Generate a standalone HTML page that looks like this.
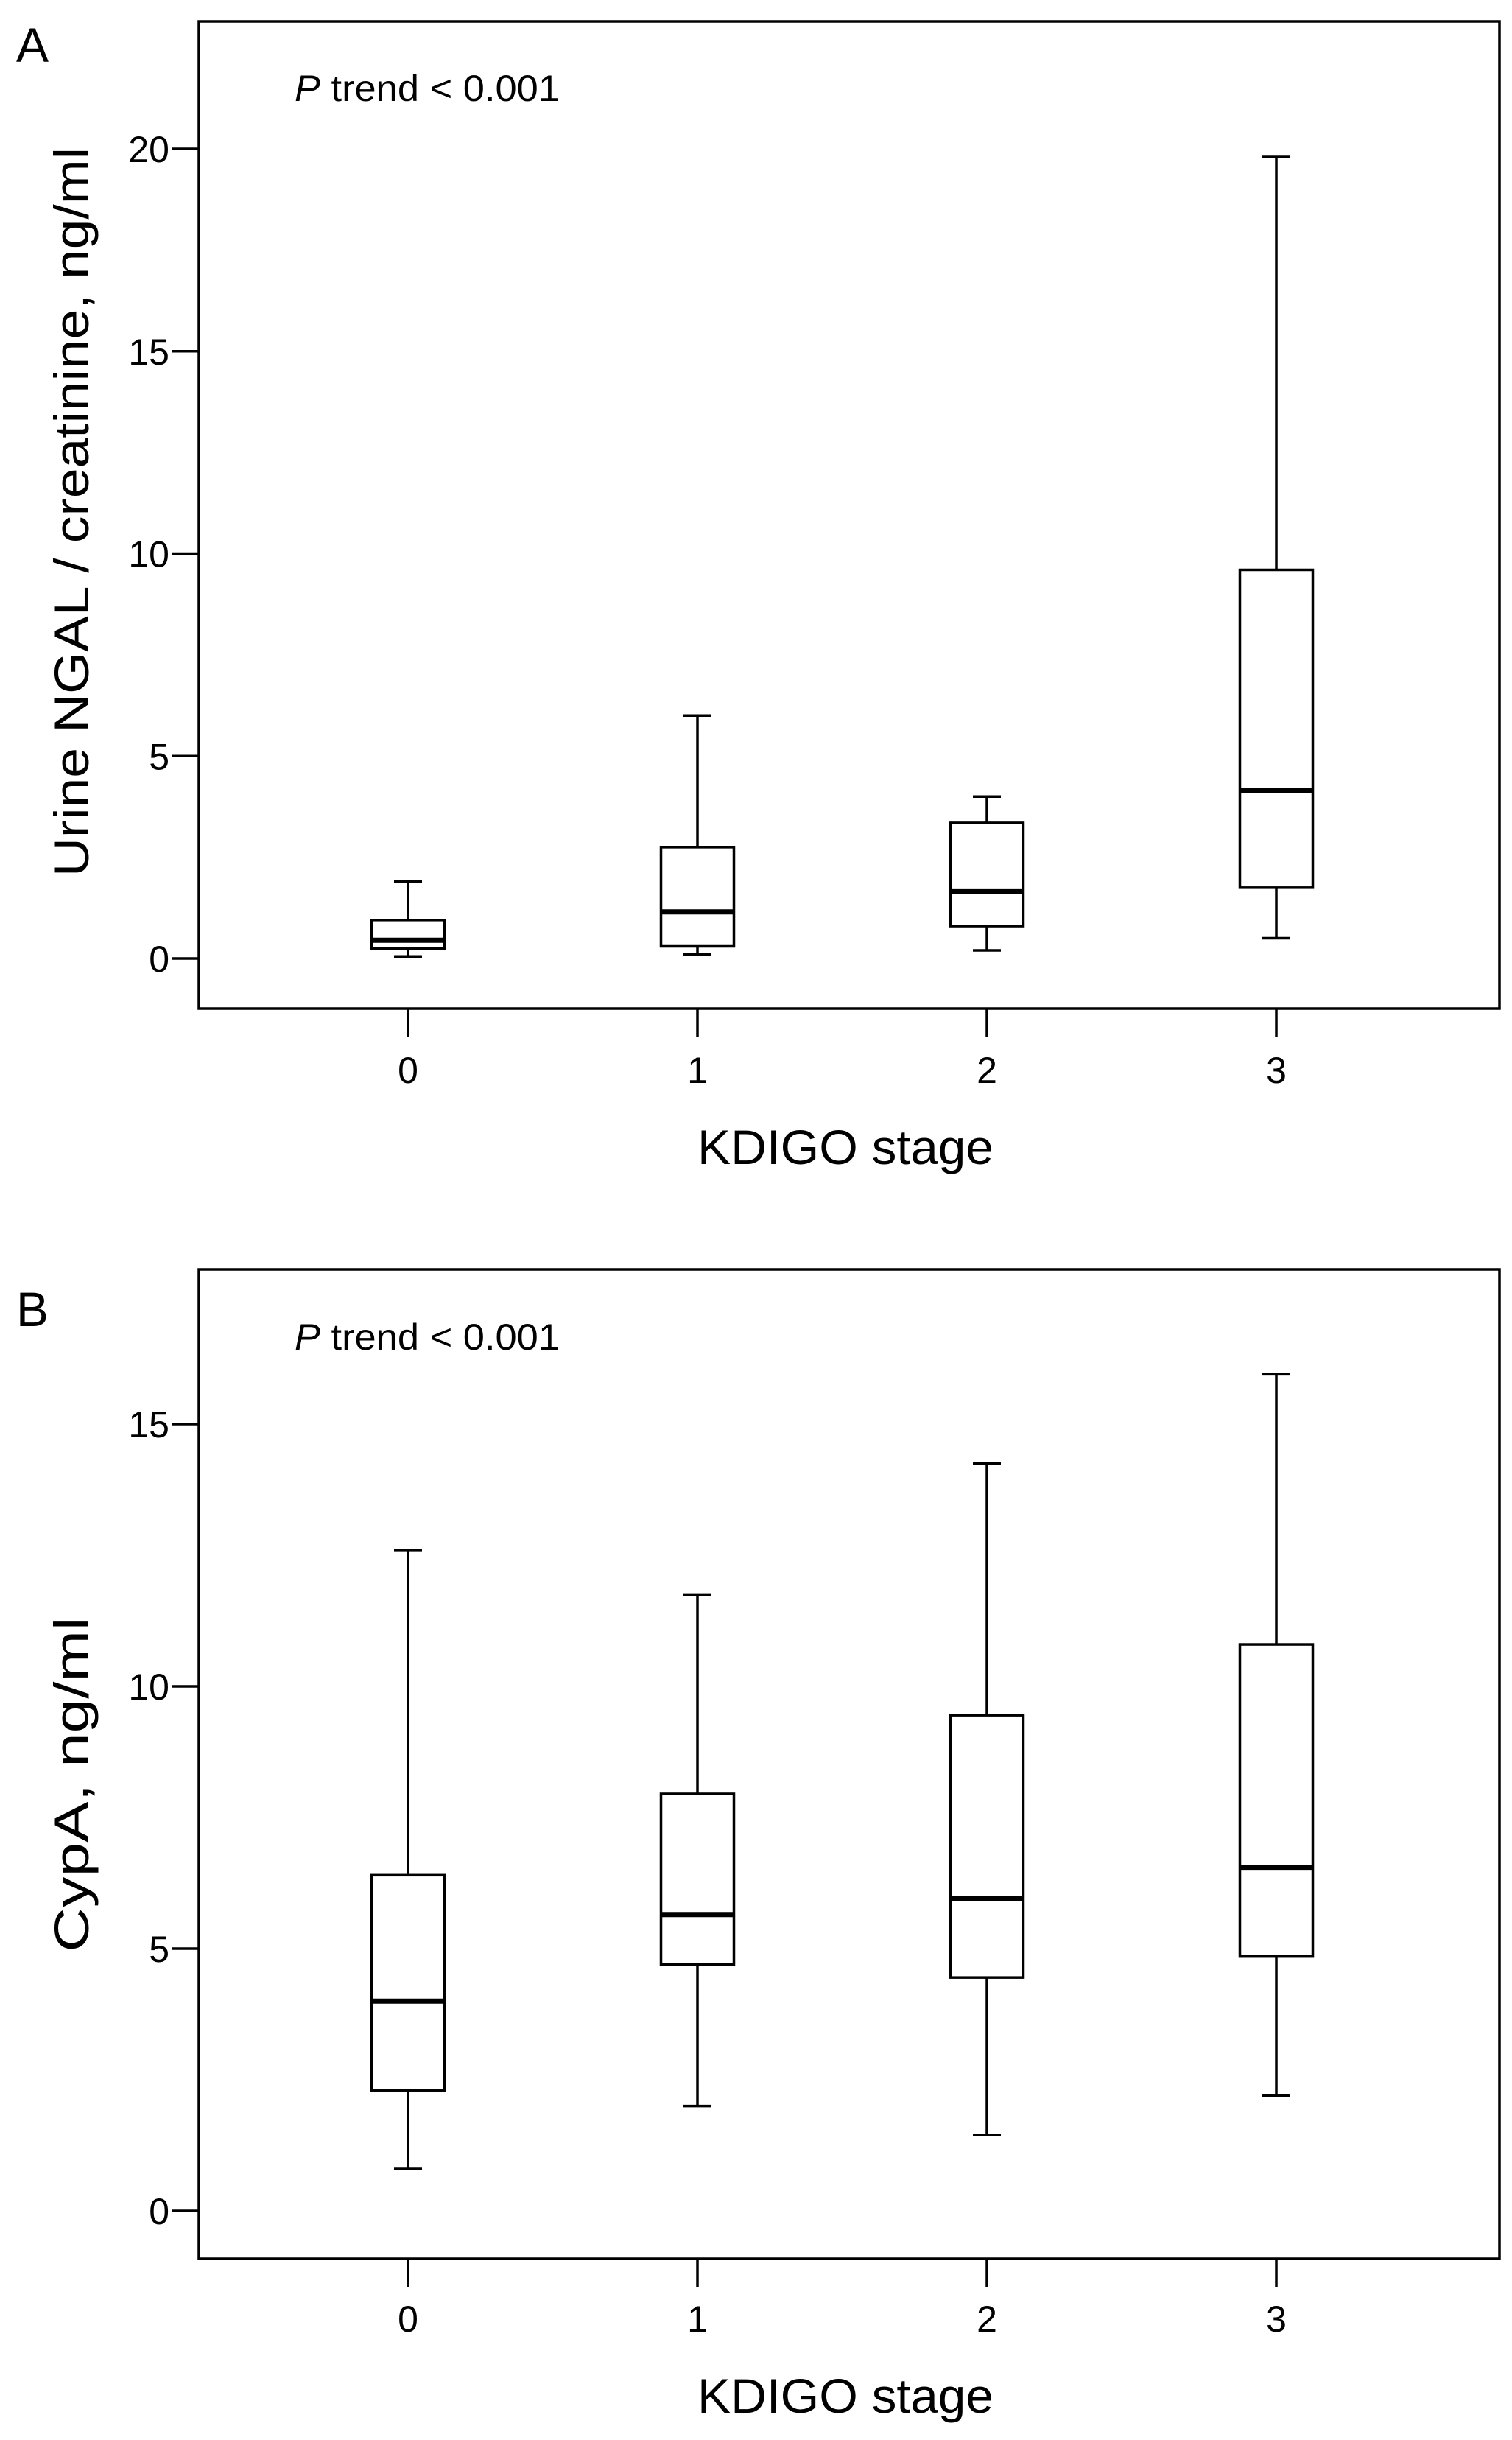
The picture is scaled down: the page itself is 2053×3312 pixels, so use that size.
<!DOCTYPE html>
<html><head><meta charset="utf-8"><style>
html,body{margin:0;padding:0;background:#fff;}
svg{display:block;font-family:"Liberation Sans",sans-serif;}
</style></head><body>
<svg id="fig" width="2053" height="3312" viewBox="0 0 2053 3312" xmlns="http://www.w3.org/2000/svg">
<rect width="2053" height="3312" fill="#fff"/>
</svg>
<script>
const categories = ["0","1","2","3"];
// Panel A: Urine NGAL / creatinine
const aLow = [0.05, 0.1, 0.2, 0.5];
const aQ1 = [0.25, 0.3, 0.8, 1.75];
const aMed = [0.45, 1.15, 1.65, 4.15];
const aQ3 = [0.95, 2.75, 3.35, 9.6];
const aHigh = [1.9, 6.0, 4.0, 19.8];
const aTicks = [0, 5, 10, 15, 20];
// Panel B: CypA
const bLow = [0.8, 2.0, 1.45, 2.2];
const bQ1 = [2.3, 4.7, 4.45, 4.85];
const bMed = [4.0, 5.65, 5.95, 6.55];
const bQ3 = [6.4, 7.95, 9.45, 10.8];
const bHigh = [12.6, 11.75, 14.25, 15.95];
const bTicks = [0, 5, 10, 15];

const NS = "http://www.w3.org/2000/svg";
const svg = document.getElementById('fig');
function mk(tag, attrs, parent){
  const e = document.createElementNS(NS, tag);
  for (const k in attrs) e.setAttribute(k, attrs[k]);
  (parent||svg).appendChild(e);
  return e;
}
function panel(opt){
  const g = mk('g', {});
  
  
  const L = 270, R = 2036, T = opt.top, B = opt.bottom;
  const y = v => opt.y0 + (opt.yRef - opt.y0) * v / opt.vRef;
  const xc = [554, 946, 1342, 1733];
  const x = i => xc[0] + i * (xc[3]-xc[0]) / (categories.length-1);
  const frame = mk('rect', {x:L, y:T, width:R-L, height:B-T, fill:'none', stroke:'#000', 'stroke-width':3.5}, g);
  
  
  opt.ticks.forEach(t => {
    const ln = mk('line', {x1:L-36, x2:L, y1:y(t), y2:y(t), stroke:'#000', 'stroke-width':3.5}, g);
    
    
    const tx = mk('text', {x:L-40, y:y(t)+18, 'font-size':50, 'text-anchor':'end'}, g);
    
    
    tx.textContent = t;
  });
  categories.forEach((c, i) => {
    const ln = mk('line', {x1:x(i), x2:x(i), y1:B, y2:B+38, stroke:'#000', 'stroke-width':3.5}, g);
    
    
    const tx = mk('text', {x:x(i), y:opt.xLabelY, 'font-size':50, 'text-anchor':'middle'}, g);
    
    
    tx.textContent = c;
    const bg = mk('g', {}, g);
    
    
    const cx = x(i), bw = 99, cw = 38;
    mk('line', {x1:cx, x2:cx, y1:y(opt.high[i]), y2:y(opt.q3[i]), stroke:'#000', 'stroke-width':3.5}, bg);
    mk('line', {x1:cx, x2:cx, y1:y(opt.q1[i]), y2:y(opt.low[i]), stroke:'#000', 'stroke-width':3.5}, bg);
    mk('line', {x1:cx-cw/2, x2:cx+cw/2, y1:y(opt.high[i]), y2:y(opt.high[i]), stroke:'#000', 'stroke-width':3.5}, bg);
    mk('line', {x1:cx-cw/2, x2:cx+cw/2, y1:y(opt.low[i]), y2:y(opt.low[i]), stroke:'#000', 'stroke-width':3.5}, bg);
    mk('rect', {x:cx-bw/2, y:y(opt.q3[i]), width:bw, height:y(opt.q1[i])-y(opt.q3[i]), fill:'#fff', stroke:'#000', 'stroke-width':3.5}, bg);
    mk('line', {x1:cx-bw/2, x2:cx+bw/2, y1:y(opt.med[i]), y2:y(opt.med[i]), stroke:'#000', 'stroke-width':7}, bg);
  });
  const letter = mk('text', {x:22, y:opt.letterY, 'font-size':66}, g);
  
  
  letter.textContent = opt.letter;
  const p = mk('text', {x:400, y:opt.pY, 'font-size':50, textLength:360, lengthAdjust:'spacingAndGlyphs'}, g);
  
  
  const ps = mk('tspan', {'font-style':'italic'}, p); ps.textContent = 'P';
  const pt = mk('tspan', {}, p); pt.textContent = ' trend < 0.001';
  const xt = mk('text', {x:1148, y:opt.xTitleY, 'font-size':66, 'text-anchor':'middle', textLength:402, lengthAdjust:'spacingAndGlyphs'}, g);
  
  
  xt.textContent = 'KDIGO stage';
  const yt = mk('text', {x:0, y:0, 'font-size':66, 'text-anchor':'middle', textLength:opt.yTitleLen, lengthAdjust:'spacingAndGlyphs', transform:`translate(120,${opt.yTitleC}) rotate(-90)`}, g);
  
  
  yt.textContent = opt.yTitle;
}
panel({name:'panel-a', letter:'A', top:29, bottom:1369, y0:1301, yRef:202, vRef:20, ticks:aTicks,
  low:aLow, q1:aQ1, med:aMed, q3:aQ3, high:aHigh, xLabelY:1470, xTitleY:1580, letterY:84, pY:137,
  yTitle:'Urine NGAL / creatinine, ng/ml', yTitleC:695, yTitleLen:990});
panel({name:'panel-b', letter:'B', top:1723, bottom:3066, y0:3001, yRef:1933, vRef:15, ticks:bTicks,
  low:bLow, q1:bQ1, med:bMed, q3:bQ3, high:bHigh, xLabelY:3165, xTitleY:3275, letterY:1800, pY:1832,
  yTitle:'CypA, ng/ml', yTitleC:2422, yTitleLen:455});
</script>
</body></html>
